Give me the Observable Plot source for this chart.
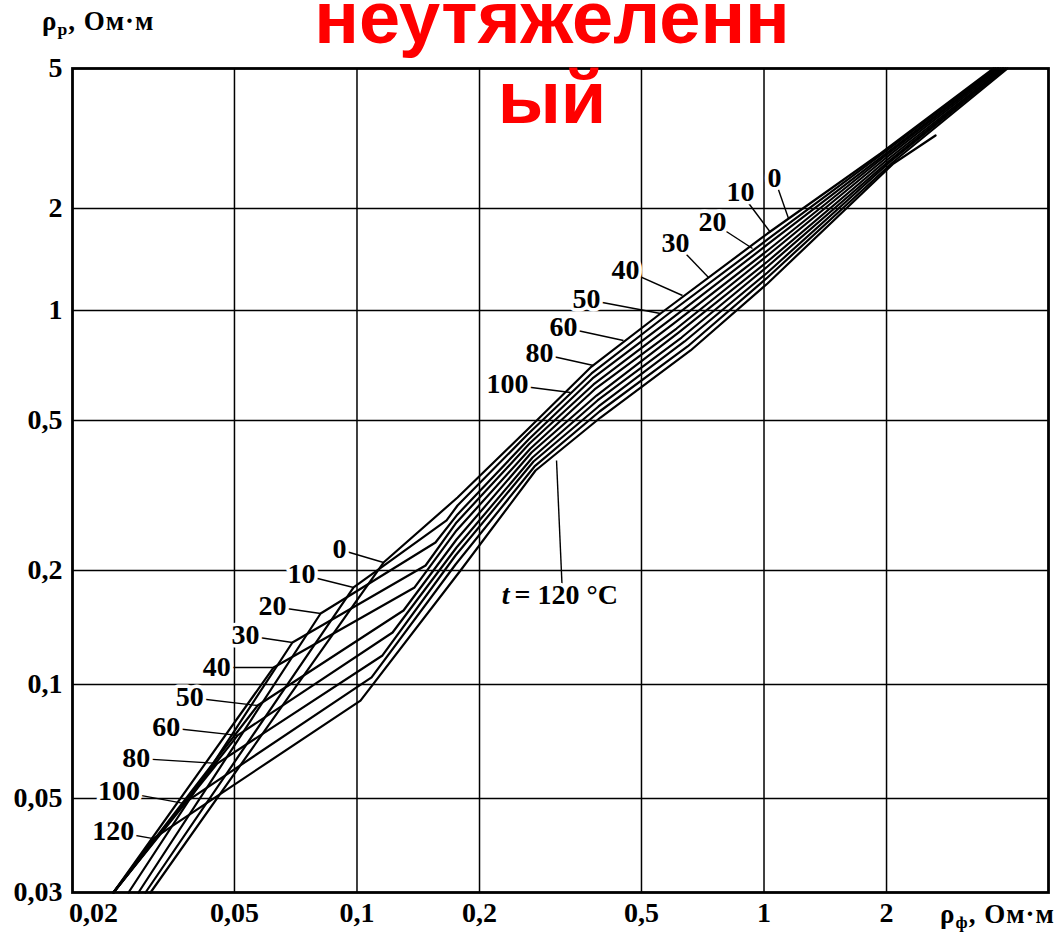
<!DOCTYPE html>
<html><head><meta charset="utf-8">
<script src="https://cdn.jsdelivr.net/npm/d3@7"></script>
<script src="https://cdn.jsdelivr.net/npm/@observablehq/plot@0.6"></script>
<style>
html,body{margin:0;padding:0;background:#fff;}
#wrap{position:relative;width:1060px;height:932px;overflow:hidden;background:#fff;}
#chart svg{display:block;}
.title{position:absolute;left:552px;top:-22px;transform:translateX(-50%);font-family:"Liberation Sans",Arial,sans-serif;font-weight:bold;font-size:74px;line-height:80px;color:#ff0000;text-align:center;white-space:nowrap;}
.axlab{position:absolute;font-family:"Liberation Serif","Times New Roman",serif;font-weight:bold;font-size:27px;line-height:1;color:#000;white-space:nowrap;letter-spacing:1px;}
.axlab sub{font-size:0.65em;vertical-align:-0.3em;}
</style></head>
<body><div id="wrap"><div id="chart"></div>
<div class="axlab" style="left:42px;top:8px">ρ<sub>р</sub>, Ом·м</div>
<div class="axlab" style="right:5px;top:901px">ρ<sub>ф</sub>, Ом·м</div>
<div class="title">неутяжеленн<br>ый</div>
</div>
<script>
// temperatures of the curves, °C
const temps = [0, 10, 20, 30, 40, 50, 60, 80, 100, 120];

// each curve: [ρф, ρр] pairs, Ом·м
const rho_t0   = [[0.0311,0.03],[0.1162,0.2100],[0.1766,0.3124],[0.2609,0.4703],[0.3748,0.6983],[0.5695,1.0],[1.0201,1.6874],[1.9335,2.8669],[3.6645,5]];
const rho_t10  = [[0.03023,0.03],[0.0981,0.1804],[0.1660,0.2715],[0.1766,0.2975],[0.2624,0.4589],[0.3769,0.6724],[0.5794,0.9751],[1.0201,1.6202],[1.9444,2.8481],[3.7061,5]];
const rho_t20  = [[0.02905,0.03],[0.0814,0.1540],[0.1559,0.2373],[0.1766,0.2817],[0.2639,0.4452],[0.3790,0.6516],[0.5894,0.9449],[1.0201,1.5661],[1.9666,2.8295],[3.748,5]];
const rho_t30  = [[0.02746,0.03],[0.0694,0.1291],[0.1474,0.2062],[0.1756,0.2682],[0.2654,0.4345],[0.3812,0.6274],[0.5995,0.9213],[1.0201,1.5034],[1.9777,2.8111],[3.7693,5]];
const rho_t40  = [[0.02522,0.03],[0.0624,0.1109],[0.1385,0.1804],[0.1756,0.2554],[0.2669,0.4214],[0.3834,0.6079],[0.6097,0.8927],[1.0201,1.4532],[2.0,2.7927],[3.8121,5]];
const rho_t50  = [[0.02522,0.03],[0.0570,0.0880],[0.1301,0.1568],[0.1756,0.2417],[0.2684,0.4113],[0.3877,0.5853],[0.6166,0.8705],[1.0201,1.3951],[2.0113,2.7564],[3.8553,5]];
const rho_t60  = [[0.02522,0.03],[0.0509,0.0734],[0.1223,0.1372],[0.1756,0.2302],[0.2699,0.3989],[0.3899,0.5672],[0.6272,0.8435],[1.0201,1.3485],[2.0342,2.7384],[3.8773,5]];
const rho_t80  = [[0.02522,0.03],[0.0454,0.0619],[0.1155,0.1193],[0.1746,0.2192],[0.2715,0.3893],[0.3921,0.5462],[0.6380,0.8226],[1.0201,1.2947],[2.0457,2.7206],[3.9214,5]];
const rho_t100 = [[0.02522,0.03],[0.0375,0.0487],[0.1086,0.1044],[0.1746,0.2075],[0.2730,0.3776],[0.3944,0.5292],[0.6489,0.7972],[1.0201,1.2515],[2.0690,2.7028],[3.9661,5]];
const rho_t120 = [[0.02522,0.03],[0.0316,0.0402],[0.1020,0.0907],[0.1796,0.2],[0.2746,0.3684],[0.3966,0.5095],[0.6600,0.7774],[1.0201,1.2015],[2.0807,2.6852],[2.639,3.2253]];
const curves = [rho_t0, rho_t10, rho_t20, rho_t30, rho_t40, rho_t50, rho_t60, rho_t80, rho_t100, rho_t120];

// axis ticks
const xTicks = [0.02, 0.05, 0.1, 0.2, 0.5, 1, 2];
const xTickLabels = ["0,02", "0,05", "0,1", "0,2", "0,5", "1", "2"];
const yTicks = [0.03, 0.05, 0.1, 0.2, 0.5, 1, 2, 5];
const yTickLabels = ["0,03", "0,05", "0,1", "0,2", "0,5", "1", "2", "5"];
const xGrid = [0.05, 0.1, 0.2, 0.5, 1, 2];
const yGrid = [0.05, 0.1, 0.2, 0.5, 1, 2];

// curve labels, lower-left group (t = 0 … 120)
const lowLabelF  = [0.0906, 0.0731, 0.0620, 0.0532, 0.0452, 0.0388, 0.0340, 0.0287, 0.0260, 0.0252];
const lowLabelR  = [0.2274, 0.1952, 0.1607, 0.1347, 0.1109, 0.0924, 0.0770, 0.0638, 0.0522, 0.0418];
const lowLeaderF = [0.1162, 0.0981, 0.0814, 0.0694, 0.0624, 0.0570, 0.0509, 0.0454, 0.0375, 0.0316];
const lowLeaderR = [0.2100, 0.1804, 0.1540, 0.1291, 0.1109, 0.0880, 0.0734, 0.0619, 0.0487, 0.0402];

// curve labels, upper group (t = 0 … 100)
const upTemps   = [0, 10, 20, 30, 40, 50, 60, 80, 100];
const upLabelF  = [1.0614, 0.8757, 0.7473, 0.6063, 0.4567, 0.3664, 0.3216, 0.2808, 0.2343];
const upLabelR  = [2.4337, 2.2212, 1.8185, 1.5806, 1.3156, 1.0776, 0.8985, 0.7627, 0.6274];
const upLeaderF = [1.1487, 1.0376, 0.9371, 0.7307, 0.6306, 0.5568, 0.4516, 0.3812, 0.3346];
const upLeaderR = [1.8685, 1.6990, 1.5238, 1.2514, 1.1073, 0.9813, 0.8279, 0.7071, 0.5965];

// "t = 120 °C" note
const noteF = 0.2410, noteR = 0.1718;
const noteLeader = [[0.3198, 0.1718], [0.3092, 0.3915]];

// ---- build tables
const rows = temps.flatMap((t, i) => curves[i].map(([f, r]) => ({t, f, r})));
const lowLabels = temps.map((t, i) => ({text: String(t), x: lowLabelF[i], y: lowLabelR[i], x2: lowLeaderF[i], y2: lowLeaderR[i]}));
const upLabels = upTemps.map((t, i) => ({text: String(t), x: upLabelF[i], y: upLabelR[i], x2: upLeaderF[i], y2: upLeaderR[i]}));
const labels = lowLabels.concat(upLabels);
const xTickRows = xTicks.map((v, i) => ({v, label: xTickLabels[i]}));
const yTickRows = yTicks.map((v, i) => ({v, label: yTickLabels[i]}));

const serif = '"Liberation Serif", "Times New Roman", serif';
const halo = {fill: "black", stroke: "white", strokeWidth: 7, paintOrder: "stroke"};
const fs = 28;

const plot = Plot.plot({
  width: 1060,
  height: 932,
  marginLeft: 72,
  marginRight: 12,
  marginTop: 68,
  marginBottom: 40,
  style: {fontFamily: serif, fontWeight: "bold", fontSize: "27px", color: "black", background: "white", overflow: "visible"},
  x: {type: "log", domain: [0.02, 5], axis: null},
  // the scanned y axis is slightly uneven: calibrate at each gridline
  y: {type: "log", domain: yTicks, range: [892, 798, 684, 570, 420, 310, 208, 68], axis: null},
  marks: [
    Plot.ruleX(xGrid, {stroke: "black", strokeWidth: 1.5}),
    Plot.ruleY(yGrid, {stroke: "black", strokeWidth: 1.5}),
    Plot.frame({stroke: "black", strokeWidth: 2.8}),
    Plot.line(rows, {x: "f", y: "r", z: "t", stroke: "black", strokeWidth: 2.2}),
    Plot.link(labels, {x1: "x", y1: "y", x2: "x2", y2: "y2", stroke: "black", strokeWidth: 1.4}),
    Plot.link([noteLeader], {x1: d => d[0][0], y1: d => d[0][1], x2: d => d[1][0], y2: d => d[1][1], stroke: "black", strokeWidth: 1.4}),
    Plot.text(labels, {x: "x", y: "y", text: "text", fontSize: fs, fontWeight: "bold", fontFamily: serif, ...halo}),
    Plot.text([{x: noteF, y: noteR}], {x: "x", y: "y", text: () => "t", textAnchor: "end", dx: -3, fontSize: fs, fontStyle: "italic", fontWeight: "bold", fontFamily: serif, ...halo}),
    Plot.text([{x: noteF, y: noteR}], {x: "x", y: "y", text: () => "= 120 °C", textAnchor: "start", dx: 2, fontSize: fs, fontWeight: "bold", fontFamily: serif, ...halo}),
    // tick labels
    Plot.text(yTickRows, {y: "v", text: "label", frameAnchor: "left", textAnchor: "end", dx: -10, fontSize: fs, fontWeight: "bold", fontFamily: serif, fill: "black"}),
    Plot.text(xTickRows.slice(1), {x: "v", text: "label", frameAnchor: "bottom", lineAnchor: "top", dy: 10, fontSize: fs, fontWeight: "bold", fontFamily: serif, fill: "black"}),
    Plot.text(xTickRows.slice(0, 1), {x: "v", text: "label", frameAnchor: "bottom", lineAnchor: "top", dy: 10, dx: 21, fontSize: fs, fontWeight: "bold", fontFamily: serif, fill: "black"})
  ]
});
document.getElementById("chart").appendChild(plot);
</script>
</body></html>
